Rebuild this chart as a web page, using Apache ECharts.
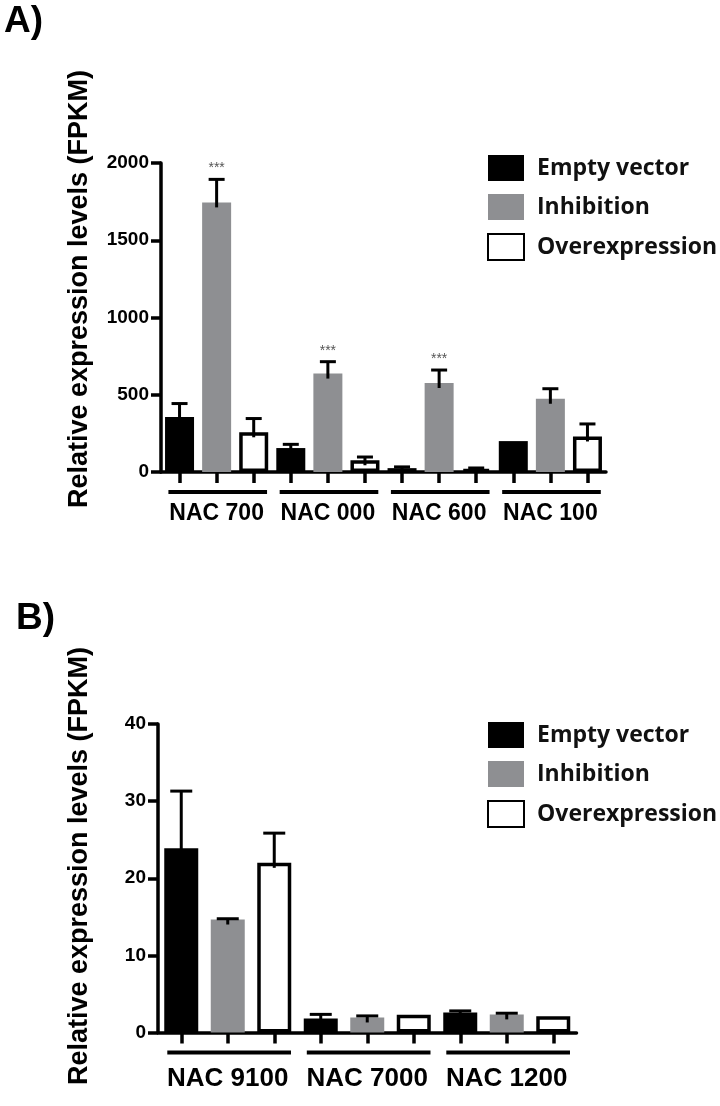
<!DOCTYPE html>
<html>
<head>
<meta charset="utf-8">
<script src="https://cdn.jsdelivr.net/npm/echarts@6/dist/echarts.min.js"></script>
<style>
html,body{margin:0;padding:0;background:#fff;}
#c{width:720px;height:1106px;}
</style>
</head>
<body>
<div id="c"></div>
<script>
// ---------- DATA ----------
const seriesNames = ['Empty vector', 'Inhibition', 'Overexpression'];

// Panel A
const groupsA = ['NAC 700', 'NAC 000', 'NAC 600', 'NAC 100'];
const emptyA = [356, 155, 25, 200];
const emptyErrA = [87, 24, 8, 0];
const inhibA = [1745, 637, 576, 474];
const inhibErrA = [149, 77, 84, 65];
const overA = [257, 76, 20, 230];
const overErrA = [89, 21, 6, 81];
const sigInhibA = ['***', '***', '***', ''];
const yMaxA = 2000, yStepA = 500;

// Panel B
const groupsB = ['NAC 9100', 'NAC 7000', 'NAC 1200'];
const emptyB = [23.9, 1.8, 2.6];
const emptyErrB = [7.4, 0.55, 0.2];
const inhibB = [14.65, 1.95, 2.35];
const inhibErrB = [0.1, 0.2, 0.15];
const overB = [22.0, 2.3, 2.1];
const overErrB = [3.85, 0, 0];
const sigInhibB = ['', '', ''];
const yMaxB = 40, yStepB = 10;

const yTitle = 'Relative expression levels (FPKM)';

// ---------- BUILD ----------
const FONT = '"Liberation Sans", Arial, Helvetica, sans-serif';
const colors = ['#000000', '#8e8f92', '#ffffff'];

const panels = [
  {groups: groupsA, vals: [emptyA, inhibA, overA], errs: [emptyErrA, inhibErrA, overErrA],
   sigs: [null, sigInhibA, null], yMax: yMaxA, yStep: yStepA,
   grid: {left: 161, top: 163, width: 445, height: 309},
   barWidth: 29, capW: 16, labelSize: 23, labelMargin: 30, legendTop: 150},
  {groups: groupsB, vals: [emptyB, inhibB, overB], errs: [emptyErrB, inhibErrB, overErrB],
   sigs: [null, sigInhibB, null], yMax: yMaxB, yStep: yStepB,
   grid: {left: 158, top: 724, width: 418.5, height: 308.5},
   barWidth: 34, capW: 22, labelSize: 26, labelMargin: 33, legendTop: 717}
];

const option = {
  animation: false,
  backgroundColor: '#fff',
  grid: [], xAxis: [], yAxis: [], series: [], legend: [],
  graphic: [
    {type: 'text', left: 4, top: 3, style: {text: 'A)', font: 'bold 37px ' + FONT, fill: '#000'}},
    {type: 'text', left: 16, top: 600, style: {text: 'B)', font: 'bold 37px ' + FONT, fill: '#000'}},
    {type: 'text', x: 80, y: 289, rotation: Math.PI / 2,
     style: {text: yTitle, font: 'bold 27px ' + FONT, fill: '#000', align: 'center', verticalAlign: 'middle'}},
    {type: 'text', x: 80, y: 866, rotation: Math.PI / 2,
     style: {text: yTitle, font: 'bold 27px ' + FONT, fill: '#000', align: 'center', verticalAlign: 'middle'}}
  ]
};

panels.forEach((p, pi) => {
  const n = p.groups.length;
  const slots = [];
  for (let g = 0; g < n; g++) for (let s = 0; s < 3; s++) slots.push(p.groups[g] + '#' + s);

  option.grid.push(Object.assign({containLabel: false}, p.grid));

  option.xAxis.push({
    type: 'category', gridIndex: pi, data: slots, boundaryGap: true, position: 'bottom',
    axisLine: {show: true, lineStyle: {color: '#000', width: 3.5}},
    axisTick: {show: true, alignWithLabel: true, interval: 0, length: 11, lineStyle: {color: '#000', width: 3.5}},
    axisLabel: {show: false}, splitLine: {show: false}
  });
  option.xAxis.push({
    type: 'category', gridIndex: pi, data: p.groups, boundaryGap: true, position: 'bottom', offset: 0,
    axisLine: {show: false}, axisTick: {show: false}, splitLine: {show: false},
    axisLabel: {show: true, interval: 0, margin: p.labelMargin, color: '#000',
      fontFamily: FONT, fontWeight: 'bold', fontSize: p.labelSize}
  });
  option.yAxis.push({
    type: 'value', gridIndex: pi, min: 0, max: p.yMax, interval: p.yStep,
    axisLine: {show: true, lineStyle: {color: '#000', width: 3.5}},
    axisTick: {show: true, length: 10, lineStyle: {color: '#000', width: 3.5}},
    axisLabel: {show: true, margin: 12, color: '#000', fontFamily: FONT, fontWeight: 'bold', fontSize: 19,
      formatter: function (v) { return String(v); }},
    splitLine: {show: false}
  });

  const xi = pi * 2;
  // bars
  for (let s = 0; s < 3; s++) {
    const data = slots.map((_, i) => (i % 3 === s) ? p.vals[s][Math.floor(i / 3)] : '-');
    option.series.push({
      type: 'bar', name: seriesNames[s], xAxisIndex: xi, yAxisIndex: pi,
      data: data, barWidth: p.barWidth, barGap: '-100%', z: 2,
      itemStyle: s === 2 ? {color: '#fff', borderColor: '#000', borderWidth: 3.5}
                         : {color: colors[s], borderWidth: 0}
    });
  }
  // error bars
  const errData = [], errSig = [];
  for (let g = 0; g < n; g++) for (let s = 0; s < 3; s++) {
    const e = p.errs[s][g];
    if (e > 0) {
      errData.push([g * 3 + s, p.vals[s][g], p.vals[s][g] + e]);
      errSig.push(p.sigs[s] ? p.sigs[s][g] : '');
    }
  }
  const capW = p.capW;
  option.series.push({
    type: 'custom', name: 'err' + pi, xAxisIndex: xi, yAxisIndex: pi, z: 3, clip: false,
    encode: {x: 0, y: [1, 2]}, data: errData,
    renderItem: function (params, api) {
      const x = api.value(0);
      const b = api.coord([x, api.value(1)]);
      const t = api.coord([x, api.value(2)]);
      const st = {stroke: '#000', lineWidth: 3};
      const ch = [
        {type: 'line', shape: {x1: t[0], y1: Math.min(b[1] + 5, api.coord([x, 0])[1]), x2: t[0], y2: t[1]}, style: st},
        {type: 'line', shape: {x1: t[0] - capW / 2, y1: t[1], x2: t[0] + capW / 2, y2: t[1]}, style: st}
      ];
      const sig = errSig[params.dataIndex];
      if (sig) ch.push({type: 'text', x: t[0], y: t[1] - 11,
        style: {text: sig, fill: '#555', font: '14px ' + FONT, align: 'center', verticalAlign: 'middle'}});
      return {type: 'group', children: ch};
    }
  });
  // group underlines
  const ulData = p.groups.map((_, g) => [g * 3, g * 3 + 2, 0]);
  option.series.push({
    type: 'custom', name: 'ul' + pi, xAxisIndex: xi, yAxisIndex: pi, z: 3, clip: false,
    encode: {x: [0, 1], y: 2}, data: ulData,
    renderItem: function (params, api) {
      const a = api.coord([api.value(0), 0]);
      const c = api.coord([api.value(1), 0]);
      const w = api.size([1, 0])[0];
      return {type: 'line', shape: {x1: a[0] - 0.3 * w, y1: a[1] + 20, x2: c[0] + 0.36 * w, y2: a[1] + 20},
        style: {stroke: '#000', lineWidth: 4}};
    }
  });

  option.legend.push({
    data: seriesNames, orient: 'vertical', left: 482, top: p.legendTop,
    itemWidth: 36, itemHeight: 26, itemGap: 13, icon: 'rect', selectedMode: false,
    textStyle: {fontFamily: '"Open Sans", "Noto Sans", sans-serif', fontWeight: 'bold', fontSize: 23,
      color: '#111', padding: [0, 0, 0, 8], lineHeight: 26}
  });
});

const chart = echarts.init(document.getElementById('c'), null, {renderer: 'canvas'});
chart.setOption(option);
</script>
</body>
</html>
